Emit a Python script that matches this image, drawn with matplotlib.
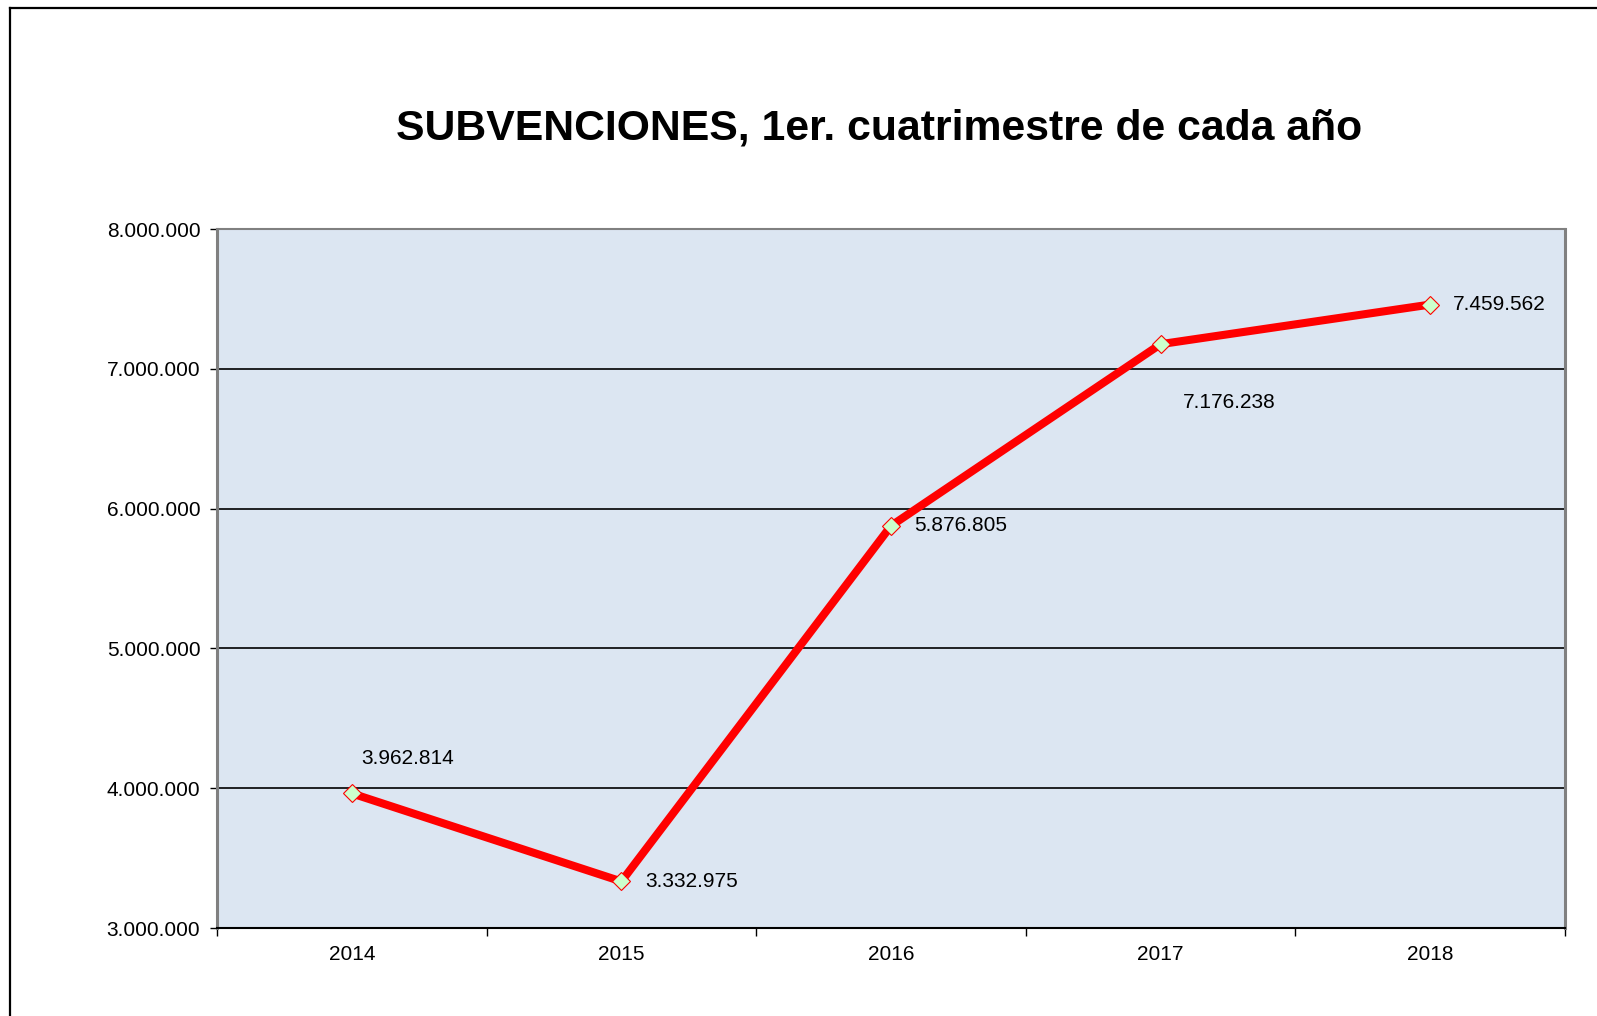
import matplotlib
matplotlib.use('Agg')
import matplotlib.pyplot as plt
from matplotlib.lines import Line2D
from matplotlib.ticker import FuncFormatter, FixedLocator

# Data
years = ['2014', '2015', '2016', '2017', '2018']
subvenciones = [3962814, 3332975, 5876805, 7176238, 7459562]
# label offsets (points) relative to each marker
label_offsets = [(7, 25), (17, 0), (17, 0), (16, -42), (16, 0)]

title = 'SUBVENCIONES, 1er. cuatrimestre de cada año'


def fmt_es(v):
    return f'{int(round(v)):,}'.replace(',', '.')


plt.rcParams['font.family'] = ['Liberation Sans', 'DejaVu Sans']

W, H = 1597, 1016
fig = plt.figure(figsize=(W / 100, H / 100), dpi=100)
fig.patch.set_facecolor('white')

# plot area in pixels: left 217, right 1565, top 229, bottom 928
ax = fig.add_axes([217 / W, (H - 928) / H, (1565 - 217) / W, (928 - 229) / H])
ax.set_facecolor('#DCE6F2')

x = list(range(len(years)))
ax.plot(x, subvenciones, color='#FF0000', linewidth=5.8, solid_capstyle='butt',
        marker='D', markersize=9, markerfacecolor='#CCFFCC',
        markeredgecolor='#FF0000', markeredgewidth=0.8, zorder=3)

for xi, v, (dx, dy) in zip(x, subvenciones, label_offsets):
    ax.annotate(fmt_es(v), (xi, v), xytext=(dx, dy), textcoords='offset points',
                ha='left', va='center', fontsize=15, color='black', zorder=4)

ax.set_xlim(-0.5, len(years) - 0.5)
ax.set_ylim(3000000, 8000000)

ax.yaxis.set_major_locator(FixedLocator(range(3000000, 8000001, 1000000)))
ax.yaxis.set_major_formatter(FuncFormatter(lambda v, p: fmt_es(v)))
ax.grid(axis='y', color='black', linewidth=1.2, zorder=1)
ax.set_axisbelow(True)

# category boundaries as major ticks, names on minor ticks
ax.xaxis.set_major_locator(FixedLocator([i - 0.5 for i in range(len(years) + 1)]))
ax.xaxis.set_major_formatter(FuncFormatter(lambda v, p: ''))
ax.xaxis.set_minor_locator(FixedLocator(x))
ax.set_xticklabels(years, minor=True)

ax.tick_params(axis='y', direction='out', length=5, width=1, pad=7,
               labelsize=15, colors='black')
ax.tick_params(axis='x', which='major', direction='out', length=6, width=1)
ax.tick_params(axis='x', which='minor', length=0, pad=12, labelsize=15)

for side in ['left', 'right', 'top']:
    ax.spines[side].set_color('#808080')
ax.spines['left'].set_linewidth(2.2)
ax.spines['right'].set_linewidth(2.2)
ax.spines['top'].set_linewidth(1.5)
ax.spines['bottom'].set_color('black')
ax.spines['bottom'].set_linewidth(1.5)

fig.text(879 / W, 1 - 129 / H, title, ha='center', va='center',
         fontsize=30.8, fontweight='bold', color='black')

# outer chart frame (only top and left edges visible)
fig.add_artist(Line2D([10 / W, 1], [1 - 8 / H, 1 - 8 / H], color='black',
                      linewidth=1.6, transform=fig.transFigure))
fig.add_artist(Line2D([10 / W, 10 / W], [0, 1 - 8 / H], color='black',
                      linewidth=1.6, transform=fig.transFigure))

fig.savefig('out.png', dpi=100)
